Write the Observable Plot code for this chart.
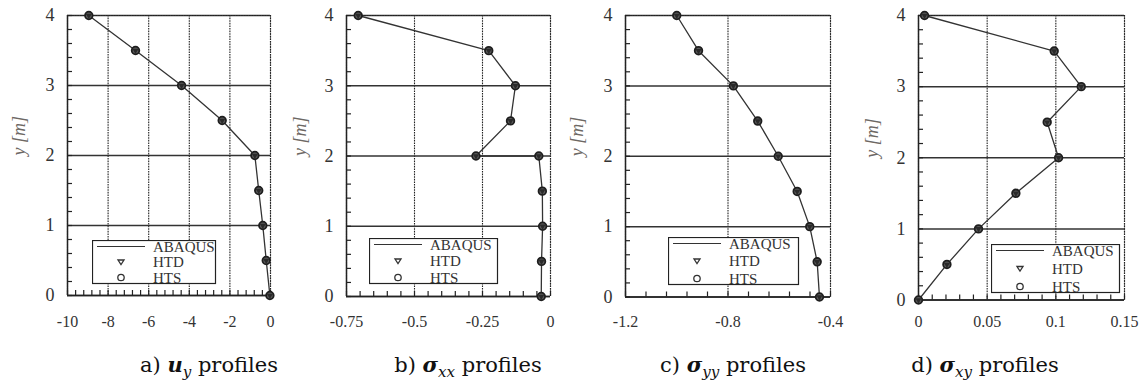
<!DOCTYPE html>
<html><head><meta charset="utf-8">
<script src="https://cdn.jsdelivr.net/npm/d3@7"></script>
<script src="https://cdn.jsdelivr.net/npm/@observablehq/plot@0.6"></script>
<style>
body{margin:0;background:#fff;}
#wrap{position:relative;width:1141px;height:386px;overflow:hidden;background:#fff;}
#wrap .panel{position:absolute;top:0;font-family:"Liberation Serif","Times New Roman",serif !important;}
#wrap .panel text{font-family:"Liberation Serif","Times New Roman",serif !important;}
.cap{position:absolute;top:367px;font-family:"DejaVu Serif",serif;font-size:21px;color:#111;white-space:nowrap;transform:translate(-50%,-50%);line-height:1;}
.cap b{font-style:italic;font-weight:bold;}
.cap sub{font-style:italic;font-weight:normal;font-size:0.72em;vertical-align:-0.3em;}
</style></head><body><div id="wrap"></div>
<script>
// ---------- data ----------
const yLevels = [0, 0.5, 1, 1.5, 2, 2.5, 3, 3.5, 4];
const uyABAQUS = [-0.03, -0.21, -0.38, -0.58, -0.77, -2.38, -4.38, -6.65, -8.95];
const uyHTD    = [-0.03, -0.21, -0.38, -0.58, -0.77, -2.38, -4.38, -6.65, -8.95];
const uyHTS    = [-0.03, -0.21, -0.38, -0.58, -0.77, -2.38, -4.38, -6.65, -8.95];

const sxxLevels = [0, 0.5, 1, 1.5, 2, 2, 2.5, 3, 3.5, 4];
const sxxABAQUS = [-0.034, -0.033, -0.029, -0.030, -0.043, -0.274, -0.147, -0.129, -0.227, -0.707];
const sxxHTD    = [-0.034, -0.033, -0.029, -0.030, -0.043, -0.274, -0.147, -0.129, -0.227, -0.707];
const sxxHTS    = [-0.034, -0.033, -0.029, -0.030, -0.043, -0.274, -0.147, -0.129, -0.227, -0.707];

const syyABAQUS = [-0.443, -0.452, -0.481, -0.530, -0.604, -0.684, -0.779, -0.915, -1.0];
const syyHTD    = [-0.443, -0.452, -0.481, -0.530, -0.604, -0.684, -0.779, -0.915, -1.0];
const syyHTS    = [-0.443, -0.452, -0.481, -0.530, -0.604, -0.684, -0.779, -0.915, -1.0];

const sxyABAQUS = [0, 0.0207, 0.0437, 0.0709, 0.102, 0.0937, 0.1185, 0.0988, 0.0044];
const sxyHTD    = [0, 0.0207, 0.0437, 0.0709, 0.102, 0.0937, 0.1185, 0.0988, 0.0044];
const sxyHTS    = [0, 0.0207, 0.0437, 0.0709, 0.102, 0.0937, 0.1185, 0.0988, 0.0044];

const uyTicks  = [-10, -8, -6, -4, -2, 0];
const sxxTicks = [-0.75, -0.5, -0.25, 0];
const syyTicks = [-1.2, -0.8, -0.4];
const sxyTicks = [0, 0.05, 0.1, 0.15];
const yTicks   = [0, 1, 2, 3, 4];
const yLabel = "y [m]";
const legendLabels = ["ABAQUS", "HTD", "HTS"];
const captions = [
  'a) <b>u</b><sub>y</sub> profiles',
  'b) <b>σ</b><sub>xx</sub> profiles',
  'c) <b>σ</b><sub>yy</sub> profiles',
  'd) <b>σ</b><sub>xy</sub> profiles'
];

// ---------- build ----------
const rows = (ys, a, d, s) => ys.map((y, i) => ({y, abaqus: a[i], htd: d[i], hts: s[i]}));
const fmt = d => String(d);
const wrap = document.getElementById("wrap");
const SERIF = "Liberation Serif";
const TICK = 5; // inward tick length, px

function panel(o) {
  const H = 345;
  const plotW = o.width - o.ml - o.mr;
  const plotH = o.bottom - 15;
  const [x0, x1] = o.domain;
  const tickDX = TICK * (x1 - x0) / plotW;
  const tickDY = TICK * 4 / plotH;
  const minorX = d3.range(x0, x1 + o.step / 2, o.step);
  const minorY = d3.range(0, 4.0001, 0.2);
  const data = o.data;
  const p = Plot.plot({
    width: o.width, height: H,
    marginLeft: o.ml, marginRight: o.mr, marginTop: 15, marginBottom: H - o.bottom,
    style: {fontFamily: SERIF, color: "#333", background: "transparent", overflow: "visible"},
    x: {domain: o.domain},
    y: {domain: [0, 4]},
    marks: [
      Plot.gridX({ticks: o.ticks, stroke: "#222", strokeOpacity: 1, strokeWidth: 1.1, strokeDasharray: "1.6,1"}),
      Plot.gridY({ticks: yTicks, stroke: "#333", strokeOpacity: 1, strokeWidth: 1.5}),
      Plot.ruleX([x1], {stroke: "#222", strokeWidth: 1.1, strokeDasharray: "1.6,1"}),
      Plot.ruleY([4], {stroke: "#222", strokeWidth: 1.1, strokeDasharray: "1.6,1"}),
      Plot.ruleX([x0], {stroke: "#222", strokeWidth: 1.5}),
      Plot.ruleY([0], {stroke: "#222", strokeWidth: 1.5}),
      Plot.ruleX(minorX, {x: d => d, y1: 0, y2: tickDY, stroke: "#222", strokeWidth: 1.2}),
      Plot.ruleY(minorY, {y: d => d, x1: x0, x2: x0 + tickDX, stroke: "#222", strokeWidth: 1.2}),
      Plot.axisX({ticks: o.ticks, anchor: "bottom", tickSize: 0, tickPadding: o.pad, tickFormat: fmt, fontSize: 16, fontFamily: SERIF, label: null, fill: "#333"}),
      Plot.axisY({ticks: yTicks, anchor: "left", tickSize: 0, tickPadding: 13, tickFormat: fmt, fontSize: 18, fontFamily: SERIF, label: null, fill: "#333"}),
      Plot.text([yLabel], {text: d => d, frameAnchor: "left", rotate: -90, dx: -o.lab, fontSize: 18, fontFamily: SERIF, fontStyle: "italic", fill: "#6d6864"}),
      Plot.line(data, {x: "abaqus", y: "y", stroke: "#333", strokeWidth: 1.3}),
      Plot.dot(data, {x: "hts", y: "y", r: 3.8, stroke: "#1e1e1e", strokeWidth: 1.8, fill: "#5a5a5a"}),
      Plot.dot(data, {x: "htd", y: "y", symbol: "triangle", rotate: 180, r: 2.3, fill: "#2a2a2a", stroke: "none"})
    ]
  });
  p.classList.add("panel");
  p.style.left = o.left + "px";
  wrap.appendChild(p);
  legend(o.leg[0], o.leg[1], o.leg[2], o.leg[3]);
}

function legend(left, top, w, h) {
  const svg = d3.create("svg").attr("width", w + 2).attr("height", h + 2)
    .style("position", "absolute").style("left", left + "px").style("top", top + "px");
  svg.append("rect").attr("x", 0.5).attr("y", 0.5).attr("width", w).attr("height", h)
    .attr("fill", "#fff").attr("stroke", "#222").attr("stroke-width", 1.2);
  const gap = (h - 12) / 2.0;
  const rowY = [6.5, 6.5 + gap, 6.5 + 2 * gap];
  svg.append("line").attr("x1", 5).attr("x2", 53).attr("y1", rowY[0]).attr("y2", rowY[0]).attr("stroke", "#333").attr("stroke-width", 1.2);
  svg.append("path").attr("d", `M${29 - 3},${rowY[1] - 2} L${29 + 3},${rowY[1] - 2} L29,${rowY[1] + 2.5} Z`)
    .attr("fill", "none").attr("stroke", "#333").attr("stroke-width", 1.3);
  svg.append("circle").attr("cx", 29).attr("cy", rowY[2]).attr("r", 3.2).attr("fill", "none").attr("stroke", "#333").attr("stroke-width", 1.3);
  legendLabels.forEach((t, i) => {
    svg.append("text").attr("x", 61).attr("y", rowY[i]).attr("dy", "0.35em")
      .attr("font-family", "'Liberation Serif', serif").attr("font-size", 15).attr("fill", "#333").text(t);
  });
  wrap.appendChild(svg.node());
}

panel({left: 0, width: 285, ml: 67, mr: 15, bottom: 295, domain: [-10, 0], ticks: uyTicks, step: 0.4, pad: 20, lab: 48,
  data: rows(yLevels, uyABAQUS, uyHTD, uyHTS), leg: [92, 240, 123, 43]});
panel({left: 285, width: 285, ml: 61, mr: 20, bottom: 296, domain: [-0.75, 0], ticks: sxxTicks, step: 0.05, pad: 19, lab: 46,
  data: rows(sxxLevels, sxxABAQUS, sxxHTD, sxxHTS), leg: [369, 238, 128, 45]});
panel({left: 570, width: 285, ml: 55, mr: 25, bottom: 296.5, domain: [-1.2, -0.4], ticks: syyTicks, step: 0.08, pad: 19, lab: 48,
  data: rows(yLevels, syyABAQUS, syyHTD, syyHTS), leg: [668, 237, 130, 47]});
panel({left: 855, width: 286, ml: 63, mr: 17, bottom: 299.5, domain: [0, 0.15], ticks: sxyTicks, step: 0.01, pad: 15.5, lab: 46,
  data: rows(yLevels, sxyABAQUS, sxyHTD, sxyHTS), leg: [991, 244, 128, 48]});

const capX = [209, 468, 733, 985];
captions.forEach((c, i) => {
  const d = document.createElement("div");
  d.className = "cap";
  d.style.left = capX[i] + "px";
  d.innerHTML = c;
  wrap.appendChild(d);
});
</script></body></html>
